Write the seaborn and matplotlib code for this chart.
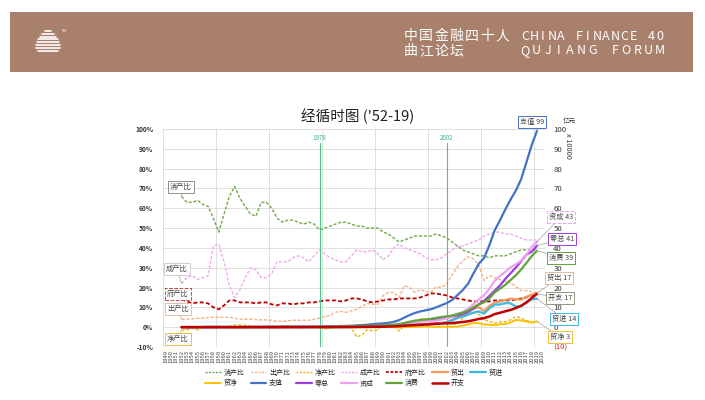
import numpy as np
import pandas as pd
import matplotlib
matplotlib.use("Agg")
import matplotlib.pyplot as plt
from matplotlib.patches import Rectangle
from matplotlib.lines import Line2D
import seaborn as sns

sns.set_theme(style="white")
plt.rcParams['font.family'] = ['Noto Sans CJK SC', 'DejaVu Sans']
plt.rcParams['axes.unicode_minus'] = False

# ---------------- data ----------------
axis_years = list(range(1949, 2021))          # category axis
years = list(range(1952, 2020))               # data years

# ratios (% of GDP)
cons_ratio = [66, 63, 63, 64, 62, 61, 55, 48, 57, 66, 71, 65, 61, 57, 56, 63, 63, 60, 55, 53,
              54, 54, 53, 52, 53, 52, 49, 50, 51, 52, 53, 53, 52, 51, 51, 50, 50, 50, 48, 47,
              45, 43, 44, 45, 46, 46, 46, 46, 47, 46, 45, 43, 41, 39, 38, 37, 36, 36, 35, 36,
              36, 36, 37, 38, 39, 39, 39, 39]
exp_ratio = [4, 4, 4.2, 4.5, 4.5, 4.8, 5, 5, 5, 5, 4.5, 4, 4, 4, 3.8, 3.7, 3.7, 3.5, 3, 3,
             3.2, 3.5, 3.5, 3.5, 3.5, 4, 4.5, 5.3, 6, 7.5, 8, 7.5, 8.3, 9, 10.5, 12, 11.5, 11.5, 16, 17.5,
             17.5, 15, 21, 20, 17.5, 19, 18, 17.5, 20.5, 20, 22, 26.5, 30.5, 33.5, 35.5, 34.5, 31.5, 23.5, 26, 25,
             24, 23, 22.5, 20.5, 18.5, 18.5, 17.8, 17.4]
net_ratio = [-1.6, -1.3, -0.6, -1.3, 0.2, 0.5, 0.4, 0.5, -0.1, 0.4, 1.1, 1.1, 0.9, 0.5, 0.3, 0.3, 0.4, 0.7, 0, 0.7,
             0.7, 0.5, -0.5, -0.1, 0.2, 0.2, -0.5, -0.8, -0.6, 0, 1.0, 0.3, -0.5, -4.9, -4.0, -1.2, -1.9, -1.4, 2.2, 1.9,
             0.9, -2.0, 0.9, 2.3, 1.4, 4.2, 4.2, 2.7, 2.0, 1.7, 2.1, 1.5, 1.6, 4.5, 6.5, 7.5, 6.5, 3.8, 3.0, 2.0,
             2.7, 2.7, 3.7, 5.4, 4.5, 3.4, 2.5, 2.9]
cap_ratio = [22, 25, 26, 24, 25, 26, 41, 42, 33, 21, 15, 19, 25, 30, 29, 25, 25, 27, 33, 33,
             33, 35, 36, 35, 33, 36, 39, 37, 35, 34, 33, 33, 36, 39, 38, 38, 39, 37, 34, 36,
             40, 42, 40, 39, 38, 37, 35, 34, 34, 35, 37, 39, 41, 41, 42, 43, 44, 46, 47, 48,
             48, 47, 47, 46, 45, 44, 44, 44]
gov_ratio = [14, 13, 12, 12.5, 12.5, 12, 10, 9, 11, 13.5, 13.5, 12.5, 12.5, 12.5, 12, 12.5, 12.5, 11.5, 11, 12,
             12, 11.5, 12, 12, 12.5, 12.5, 13, 13.5, 13.5, 13.5, 13, 13.5, 14.5, 14.5, 14, 13, 12.5, 13, 13.5, 14,
             14, 14.5, 14.5, 14.5, 14.5, 15, 16, 17, 17, 16.5, 16, 15, 14.5, 14, 13.5, 13, 13, 13, 13, 13.5,
             13.5, 13.5, 13.5, 14, 14.5, 15, 16, 17]

# levels (亿元 x 10000)
gdp = [0.07, 0.082, 0.086, 0.091, 0.103, 0.107, 0.131, 0.145, 0.147, 0.123, 0.116, 0.125, 0.147, 0.173, 0.189, 0.179, 0.174, 0.196, 0.228, 0.246,
       0.255, 0.276, 0.283, 0.304, 0.299, 0.325, 0.368, 0.41, 0.459, 0.494, 0.537, 0.602, 0.728, 0.91, 1.038, 1.218, 1.518, 1.718, 1.887, 2.2,
       2.72, 3.567, 4.864, 6.134, 7.181, 7.972, 8.52, 9.056, 10.03, 11.09, 12.17, 13.74, 16.18, 18.73, 21.94, 27.01, 31.92, 34.85, 41.21, 48.79,
       53.86, 59.3, 64.36, 68.89, 74.64, 83.2, 91.93, 99.09]
exports = [0.0027, 0.0035, 0.004, 0.0049, 0.0055, 0.0055, 0.0067, 0.0078, 0.0063, 0.0048, 0.0047, 0.005, 0.0055, 0.0063, 0.0066, 0.0058, 0.0058, 0.006, 0.0057, 0.0068,
           0.0082, 0.0117, 0.0139, 0.0143, 0.0135, 0.014, 0.0168, 0.0212, 0.0271, 0.0368, 0.0414, 0.0438, 0.058, 0.0809, 0.1082, 0.147, 0.1767, 0.1956, 0.2986, 0.3827,
           0.4676, 0.5285, 1.0422, 1.2452, 1.2576, 1.5161, 1.5224, 1.616, 2.0634, 2.2024, 2.6948, 3.6288, 4.9103, 6.2648, 7.7598, 9.3627, 10.04, 8.203, 10.70, 12.32,
           12.94, 13.71, 14.39, 14.12, 13.84, 15.33, 16.41, 17.23]
imports = [0.0038, 0.0046, 0.0045, 0.0061, 0.0053, 0.005, 0.0062, 0.0071, 0.0065, 0.0043, 0.0034, 0.0036, 0.0042, 0.0055, 0.0061, 0.0053, 0.0051, 0.0047, 0.0056, 0.0052,
           0.0064, 0.0104, 0.0153, 0.0147, 0.0129, 0.0133, 0.0187, 0.0243, 0.0299, 0.0368, 0.0358, 0.0422, 0.062, 0.1258, 0.1498, 0.1614, 0.2055, 0.22, 0.2574, 0.3399,
           0.4443, 0.5986, 0.996, 1.1048, 1.1557, 1.1807, 1.1626, 1.3736, 1.8639, 2.0159, 2.443, 3.4196, 4.6436, 5.4274, 6.3377, 7.3297, 7.9527, 6.8618, 9.47, 11.32,
           11.48, 12.10, 12.04, 10.43, 10.50, 12.48, 14.09, 14.33]
net_exp = [-0.0011, -0.0011, -0.0005, -0.0012, 0.0002, 0.0005, 0.0005, 0.0007, -0.0002, 0.0005, 0.0013, 0.0014, 0.0013, 0.0008, 0.0005, 0.0005, 0.0007, 0.0013, 0.0001, 0.0016,
           0.0018, 0.0013, -0.0014, -0.0004, 0.0006, 0.0007, -0.0019, -0.0031, -0.0028, 0.0, 0.0056, 0.0016, -0.004, -0.0449, -0.0416, -0.0144, -0.0288, -0.0244, 0.0412, 0.0428,
           0.0233, -0.0701, 0.0462, 0.1404, 0.1019, 0.3354, 0.3598, 0.2424, 0.1995, 0.1865, 0.2518, 0.2092, 0.2667, 0.8374, 1.4221, 2.033, 2.087, 1.341, 1.23, 1.00,
           1.46, 1.61, 2.35, 3.69, 3.34, 2.85, 2.32, 2.90]
retail = [0.028, 0.035, 0.038, 0.039, 0.046, 0.047, 0.055, 0.064, 0.070, 0.061, 0.060, 0.060, 0.064, 0.067, 0.073, 0.077, 0.074, 0.080, 0.086, 0.093,
          0.102, 0.111, 0.116, 0.127, 0.134, 0.143, 0.156, 0.180, 0.214, 0.235, 0.257, 0.285, 0.338, 0.430, 0.495, 0.582, 0.744, 0.810, 0.830, 0.942,
          1.099, 1.424, 1.862, 2.361, 2.836, 3.125, 3.338, 3.565, 3.911, 4.306, 4.814, 5.252, 5.950, 6.718, 7.641, 9.357, 11.48, 13.27, 15.70, 18.39,
          21.03, 24.28, 27.19, 30.09, 33.23, 36.63, 38.10, 41.16]
cap_form = [0.015, 0.021, 0.022, 0.022, 0.026, 0.028, 0.054, 0.061, 0.049, 0.026, 0.017, 0.024, 0.037, 0.052, 0.055, 0.045, 0.044, 0.053, 0.075, 0.081,
            0.084, 0.097, 0.102, 0.106, 0.099, 0.117, 0.144, 0.152, 0.161, 0.168, 0.177, 0.199, 0.262, 0.355, 0.394, 0.463, 0.592, 0.636, 0.642, 0.792,
            1.088, 1.498, 1.946, 2.392, 2.729, 2.95, 2.982, 3.079, 3.41, 3.882, 4.503, 5.359, 6.634, 7.679, 9.215, 11.61, 14.04, 16.03, 19.37, 23.42,
            25.85, 27.87, 30.25, 31.69, 33.59, 36.61, 40.45, 43.2]
consumption = [0.045, 0.052, 0.054, 0.058, 0.064, 0.065, 0.072, 0.070, 0.084, 0.081, 0.082, 0.081, 0.090, 0.099, 0.106, 0.113, 0.110, 0.118, 0.125, 0.130,
               0.138, 0.149, 0.150, 0.158, 0.158, 0.169, 0.180, 0.205, 0.234, 0.257, 0.285, 0.319, 0.379, 0.464, 0.529, 0.609, 0.759, 0.859, 0.906, 1.034,
               1.224, 1.534, 2.140, 2.760, 3.303, 3.667, 3.919, 4.166, 4.714, 5.100, 5.477, 5.908, 6.634, 7.305, 8.337, 9.994, 11.49, 12.55, 14.42, 17.56,
               19.39, 21.35, 23.81, 26.18, 29.11, 32.45, 35.85, 38.65]
gov_spend = [0.0098, 0.011, 0.0103, 0.011, 0.013, 0.013, 0.013, 0.013, 0.016, 0.017, 0.016, 0.016, 0.018, 0.022, 0.023, 0.022, 0.022, 0.023, 0.025, 0.030,
             0.031, 0.032, 0.034, 0.036, 0.037, 0.041, 0.048, 0.055, 0.062, 0.067, 0.070, 0.081, 0.106, 0.132, 0.145, 0.158, 0.190, 0.223, 0.255, 0.308,
             0.381, 0.517, 0.705, 0.889, 1.041, 1.196, 1.363, 1.540, 1.705, 1.830, 1.947, 2.061, 2.346, 2.622, 2.962, 3.511, 4.150, 4.531, 5.357, 6.587,
             7.271, 8.006, 8.689, 9.645, 10.82, 12.48, 14.71, 16.85]

left_ticks = [-10, 0, 10, 20, 30, 40, 50, 60, 70, 80, 90, 100]
left_tick_labels = ["-10%", "0%", "10%", "20%", "30%", "40%", "50%", "60%", "70%", "80%", "90%", "100%"]
right_tick_labels = ["(10)", "0", "10", "20", "30", "40", "50", "60", "70", "80", "90", "100"]

# ---------------- helpers ----------------
W, H = 705, 400
def fx(x): return x / W
def fy(y): return 1 - y / H

xpos = [axis_years.index(y) for y in years]

fig = plt.figure(figsize=(7.05, 4.0), dpi=100)
fig.patch.set_facecolor('white')

# header banner
fig.add_artist(Rectangle((fx(10), fy(72)), 683 / W, 60 / H, transform=fig.transFigure,
                         facecolor='#a9806b', edgecolor='none'))
# logo stripes
for i, (x0, x1) in enumerate([(45, 51), (42, 54), (40, 56), (38, 58), (37, 59), (36, 60), (36, 60), (38, 58)]):
    yy = fy(31 + i * 2.8)
    fig.add_artist(Line2D([fx(x0), fx(x1)], [yy, yy], transform=fig.transFigure, color='white', lw=1.2))
fig.text(fx(62), fy(31), "TM", fontsize=2.5, color='white', ha='left', va='center')

def spaced(text, x0, step, y, size):
    for i, ch in enumerate(text):
        fig.text(fx(x0 + step * i), fy(y), ch, fontsize=size, color='white',
                 ha='center', va='center')

spaced("中国金融四十人", 411, 15.2, 36, 10)
spaced("曲江论坛", 411, 15.2, 51, 10)
spaced("CHINA FINANCE 40", 525, 9.0, 36, 9)
spaced("QUJIANG FORUM", 525, 11.25, 51, 9)

# title
fig.text(fx(358), fy(116), "经循时图 ('52-19)", ha='center', va='center', fontsize=10.5, color='#222222')

# axes
ax = fig.add_axes([fx(163), fy(347), (545 - 163) / W, (347 - 129) / H])
ax2 = ax.twinx()

c_cons = '#70a845'
c_exp_r = '#f4b183'
c_net_r = '#e8b820'
c_cap_r = '#f0a8ee'
c_gov_r = '#c00000'

c_exp = '#f09a5c'
c_imp = '#3cb7e6'
c_net = '#ffc000'
c_gdp = '#4472c4'
c_ret = '#9b3fe0'
c_cap = '#f0a0f0'
c_con = '#5fa33a'
c_gov = '#c00000'

ratio_series = [
    ("消产比", cons_ratio, c_cons, 1.0),
    ("出产比", exp_ratio, c_exp_r, 1.0),
    ("净产比", net_ratio, c_net_r, 1.0),
    ("成产比", cap_ratio, c_cap_r, 1.0),
    ("府产比", gov_ratio, c_gov_r, 1.3),
]
level_series = [
    ("贸出", exports, c_exp, 1.6),
    ("贸进", imports, c_imp, 1.6),
    ("贸净", net_exp, c_net, 1.4),
    ("支值", gdp, c_gdp, 1.6),
    ("零总", retail, c_ret, 1.6),
    ("资成", cap_form, c_cap, 1.6),
    ("消费", consumption, c_con, 1.6),
    ("开支", gov_spend, c_gov, 1.8),
]

handles = []
for name, vals, col, lw in ratio_series:
    sns.lineplot(x=xpos, y=vals, ax=ax, color=col, lw=lw, linestyle=(0, (2.2, 1.3)))
    handles.append(Line2D([], [], color=col, lw=lw, linestyle=(0, (1.5, 1)), label=name))
for name, vals, col, lw in level_series:
    sns.lineplot(x=xpos, y=vals, ax=ax2, color=col, lw=lw)
    handles.append(Line2D([], [], color=col, lw=lw, label=name))

for a in (ax, ax2):
    a.set_xlim(-0.5, len(axis_years) - 0.5)
    a.set_ylim(-10, 100)
    for s in a.spines.values():
        s.set_visible(False)

# grid
for v in left_ticks:
    ax.axhline(v, color='#d9d9d9', lw=0.6, zorder=0)
for b in np.arange(-0.5, len(axis_years), 10):
    ax.axvline(b, color='#d9d9d9', lw=0.6, zorder=0)

ax.set_yticks(left_ticks)
ax.set_yticklabels(left_tick_labels, fontsize=4.8, color='#333333', fontweight='bold')
ax2.set_yticks(left_ticks)
ax2.set_yticklabels(right_tick_labels, fontsize=5.6, color='#333333')
ax2.get_yticklabels()[0].set_color('#e02020')
ax.tick_params(axis='y', length=0, pad=7)
ax2.tick_params(axis='y', length=0, pad=6)

ax.set_xticks(range(len(axis_years)))
ax.set_xticklabels([str(y) for y in axis_years], rotation=90, fontsize=4.2, color='#444444')
ax.tick_params(axis='x', length=0, pad=2)
ax.set_xlabel("")
ax.set_ylabel("")
ax2.set_ylabel("")

# marker years
for yr in (1978, 2002):
    i = axis_years.index(yr)
    ax.axvline(i, ymin=0, ymax=(347 - 143) / 218, color='#4cc488', lw=0.8, zorder=3)
    ax.text(i, 95.3, str(yr), color='#3cb878', fontsize=4.5, ha='center', va='center')

# unit labels
fig.text(fx(569), fy(121), "亿元", fontsize=4.8, color='#333333', ha='center', va='center')
fig.text(fx(568), fy(146), "x 10000", fontsize=5.3, color='#333333', ha='center', va='center', rotation=270)

# right-side end labels
box_kw = dict(fontsize=5.2, color='#444444', ha='center', va='center')
right_labels = [
    ("支值", gdp, c_gdp, (532, 122), '-'),
    ("资成", cap_form, c_cap, (561, 217), '--'),
    ("零总", retail, c_ret, (562, 239), '-'),
    ("消费", consumption, c_con, (561, 258), '-'),
    ("贸出", exports, '#e0b8a0', (559, 278), '-'),
    ("开支", gov_spend, '#8a9a80', (560, 298), '-'),
    ("贸进", imports, c_imp, (564, 319), '-'),
    ("贸净", net_exp, '#f0c040', (560, 337), '-'),
]
for name, vals, ec, (px, py), ls in right_labels:
    txt = f"{name} {round(vals[-1])}"
    ax2.annotate(txt, xy=(xpos[-1], vals[-1]), xycoords='data',
                 xytext=(fx(px), fy(py)), textcoords='figure fraction',
                 bbox=dict(boxstyle='square,pad=0.25', fc='white', ec=ec, lw=0.7, ls=ls),
                 arrowprops=dict(arrowstyle='-', color='#a0a0a0', lw=0.5, shrinkA=0, shrinkB=0),
                 annotation_clip=False, zorder=10, **box_kw)

left_labels = [
    ("消产比", cons_ratio, '#909090', (181, 187), '-'),
    ("成产比", cap_ratio, '#d8c8d8', (177, 269), '-'),
    ("府产比", gov_ratio, '#d04040', (178, 294), '--'),
    ("出产比", exp_ratio, '#e0c0a8', (178, 309), '-'),
    ("净产比", net_ratio, '#e8c040', (178, 339), '-'),
]
for name, vals, ec, (px, py), ls in left_labels:
    ax.annotate(name, xy=(xpos[0], vals[0]), xycoords='data',
                xytext=(fx(px), fy(py)), textcoords='figure fraction',
                bbox=dict(boxstyle='square,pad=0.25', fc='white', ec=ec, lw=0.7, ls=ls),
                arrowprops=dict(arrowstyle='-', color='#a0a0a0', lw=0.5, shrinkA=0, shrinkB=0),
                annotation_clip=False, zorder=10, **box_kw)

# legend: row-major order (7 in first row, 6 in second)
order = [0, 7, 1, 8, 2, 9, 3, 10, 4, 11, 5, 12, 6]
leg_handles = [handles[i] for i in order]
fig.legend(handles=leg_handles, loc='center', bbox_to_anchor=(fx(354), fy(378)), ncol=7,
           fontsize=5.0, frameon=False, handlelength=2.3, columnspacing=0.8,
           labelspacing=0.35, handletextpad=0.4)

fig.savefig("out.png", dpi=100, facecolor='white')
